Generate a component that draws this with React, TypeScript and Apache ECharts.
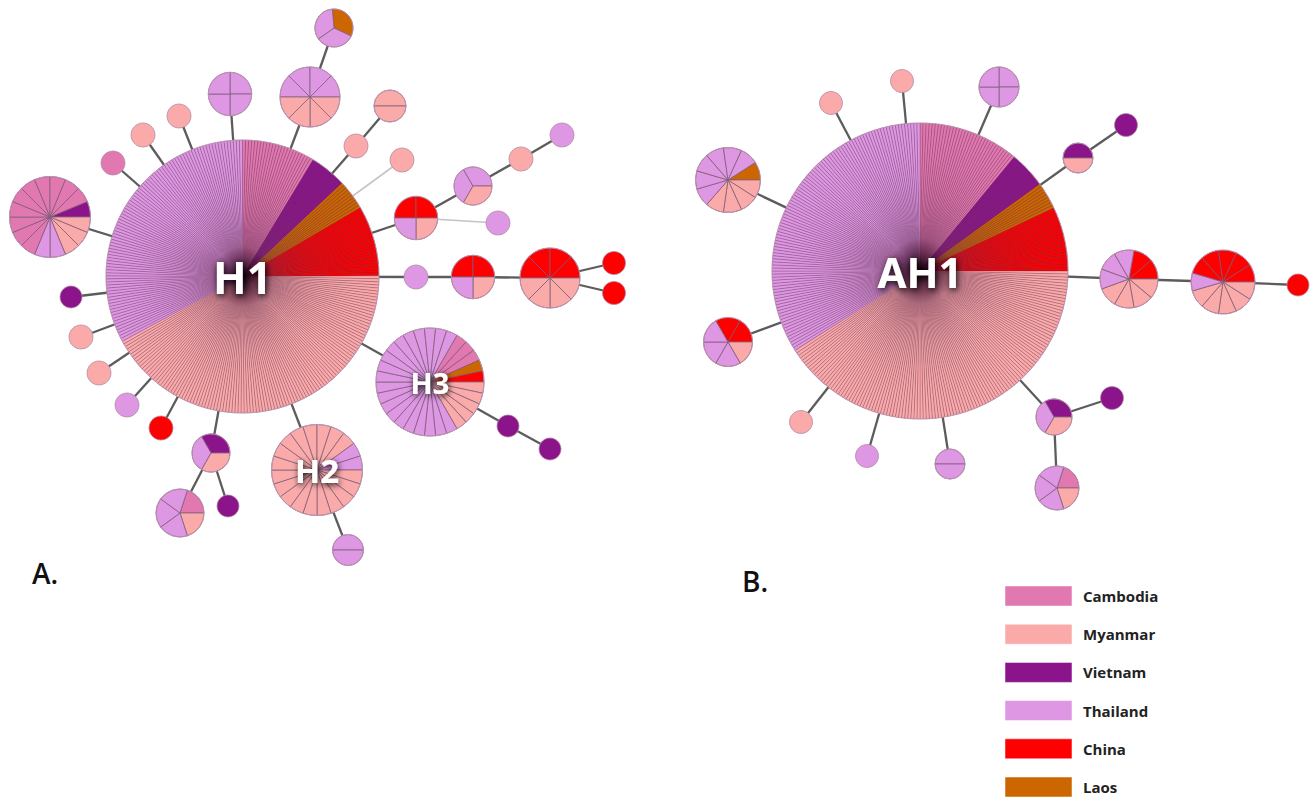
import React, { useEffect, useRef } from 'react';
import * as echarts from 'echarts';

const countries = ['Cambodia', 'Myanmar', 'Vietnam', 'Thailand', 'China', 'Laos'];
const countryColors = ['#e278b0', '#fbaaaa', '#8b148b', '#dd97e3', '#fe0000', '#cc6600'];
const CAM = 0, MYA = 1, VIE = 2, THA = 3, CHI = 4, LAO = 5;

// Panel A: haplotype compositions (samples per country, clockwise order)
const haplotypesA: number[][][] = [
  [[CAM, 24], [VIE, 12], [LAO, 10], [CHI, 23], [MYA, 117], [THA, 91]], // 0 H1
  [[THA, 2], [MYA, 18]], // 1 H2
  [[CAM, 3], [LAO, 1], [CHI, 1], [MYA, 5], [THA, 20]], // 2 H3
  [[LAO, 1], [THA, 2]], // 3
  [[THA, 4], [MYA, 4]], // 4
  [[THA, 4]], // 5
  [[MYA, 1]], // 6
  [[MYA, 1]], // 7
  [[CAM, 1]], // 8
  [[VIE, 1], [MYA, 3], [THA, 2], [CAM, 10]], // 9
  [[VIE, 1]], // 10
  [[MYA, 1]], // 11
  [[MYA, 1]], // 12
  [[THA, 1]], // 13
  [[CHI, 1]], // 14
  [[VIE, 1], [MYA, 1], [THA, 1]], // 15
  [[CAM, 1], [MYA, 1], [THA, 3]], // 16
  [[VIE, 1]], // 17
  [[THA, 2]], // 18
  [[VIE, 1]], // 19
  [[VIE, 1]], // 20
  [[MYA, 1]], // 21
  [[MYA, 2]], // 22
  [[MYA, 1]], // 23
  [[CHI, 2], [MYA, 1], [THA, 1]], // 24
  [[THA, 2], [MYA, 1]], // 25
  [[MYA, 1]], // 26
  [[THA, 1]], // 27
  [[THA, 1]], // 28
  [[THA, 1]], // 29
  [[CHI, 2], [MYA, 1], [THA, 1]], // 30
  [[CHI, 4], [MYA, 4]], // 31
  [[CHI, 1]], // 32
  [[CHI, 1]], // 33
];
const labelsA = ['H1', 'H2', 'H3'];
// [from, to, faint]
const edgesA = [
  [0, 4, 0], [4, 3, 0], [0, 5, 0], [0, 6, 0], [0, 7, 0], [0, 8, 0], [0, 9, 0], [0, 10, 0],
  [0, 11, 0], [0, 12, 0], [0, 13, 0], [0, 14, 0], [0, 15, 0], [15, 16, 0], [15, 17, 0],
  [0, 1, 0], [1, 18, 0], [0, 2, 0], [2, 19, 0], [19, 20, 0], [0, 21, 0], [21, 22, 0],
  [0, 23, 1], [0, 24, 0], [24, 25, 0], [25, 26, 0], [26, 27, 0], [24, 28, 1], [0, 29, 0],
  [29, 30, 0], [30, 31, 0], [31, 32, 0], [31, 33, 0],
];

// Panel B
const haplotypesB: number[][][] = [
  [[CAM, 33], [VIE, 12], [LAO, 9], [CHI, 21], [MYA, 123], [THA, 102]], // 0 AH1
  [[MYA, 1]], // 1
  [[MYA, 1]], // 2
  [[THA, 4]], // 3
  [[VIE, 1], [MYA, 1]], // 4
  [[VIE, 1]], // 5
  [[LAO, 1], [MYA, 4], [THA, 6]], // 6
  [[CHI, 2], [MYA, 1], [THA, 3]], // 7
  [[MYA, 1]], // 8
  [[THA, 1]], // 9
  [[THA, 2]], // 10
  [[VIE, 1], [MYA, 1], [THA, 1]], // 11
  [[VIE, 1]], // 12
  [[CAM, 1], [MYA, 1], [THA, 3]], // 13
  [[CHI, 2], [MYA, 4], [THA, 3]], // 14
  [[CHI, 5], [MYA, 5], [THA, 1]], // 15
  [[CHI, 1]], // 16
];
const labelsB = ['AH1'];
const edgesB = [
  [0, 1, 0], [0, 2, 0], [0, 3, 0], [0, 4, 0], [4, 5, 0], [0, 6, 0], [0, 7, 0], [0, 8, 0],
  [0, 9, 0], [0, 10, 0], [0, 11, 0], [11, 12, 0], [11, 13, 0], [0, 14, 0], [14, 15, 0], [15, 16, 0],
];

const panelTitles = ['A.', 'B.'];

// Layout (not data): [x, y, radius, startAngle(clock deg), labelFontSize]
const layoutA = [
  [242.5, 276.5, 136.5, 0, 44], [317, 470, 45.5, 54, 33], [430, 382, 54, 30, 29],
  [334, 28, 19, 355], [310, 97, 30, 270], [230, 94, 21.7, 0], [179, 116, 12, 0],
  [143, 135, 12, 0], [113, 163, 12, 0], [50, 217, 40.5, 67.5], [71, 297, 11, 0],
  [81, 337, 12, 0], [99, 373, 12, 0], [127, 405, 12, 0], [161, 428, 12, 0],
  [211, 453, 19, 330], [180, 513, 24, 18], [228, 506, 11, 0], [348, 550, 15.5, 270],
  [508, 426, 11, 0], [550, 449, 11, 0], [356, 146, 12, 0], [390, 106, 16, 270],
  [402, 160, 12, 0], [416, 218, 21.7, 270], [473, 186, 19, 210], [521, 159, 12, 0],
  [562, 135, 12, 0], [498, 223, 12, 0], [416, 277, 12, 0], [473, 277, 21.7, 270],
  [550, 278, 30, 270], [614, 263, 11.5, 0], [614, 293, 11.5, 0],
];
const layoutB = [
  [920, 271, 148, 0, 42], [831, 103, 11.5, 0], [902, 81, 11.5, 0], [999, 87, 20, 0],
  [1078, 158, 15, 270], [1126, 125, 11.5, 0], [728, 180, 32.5, 57.3], [728, 342, 24.5, 330],
  [801, 422, 11.5, 0], [867, 456, 11.5, 0], [950, 464, 15, 270], [1054, 417, 18, 330],
  [1112, 398, 11.5, 0], [1057, 488, 22, 18], [1129, 279, 29, 10], [1223, 282, 32, 286.4],
  [1298, 285, 11, 0],
];
const titlePos = [[32, 578], [742, 586]];

export default function App() {
  const ref = useRef<HTMLDivElement>(null);
  useEffect(() => {
    const chart = echarts.init(ref.current as HTMLDivElement, undefined, { renderer: 'svg' });
    const panels = [
      { comps: haplotypesA, labels: labelsA, layout: layoutA, edges: edgesA },
      { comps: haplotypesB, labels: labelsB, layout: layoutB, edges: edgesB },
    ];
    const nodes: any[] = [];
    const edgeData: any[] = [];
    panels.forEach((p) => {
      p.comps.forEach((c, i) => nodes.push({ comp: c, label: p.labels[i] || '', lay: p.layout[i] }));
      p.edges.forEach(([a, b, faint]) => {
        edgeData.push({
          coords: [[p.layout[a][0], p.layout[a][1]], [p.layout[b][0], p.layout[b][1]]],
          lineStyle: faint ? { color: '#c4c4c4', width: 1.6 } : { color: '#5c5c5c', width: 2.3 },
        });
      });
    });
    const nodeData = nodes.map((n, i) => [n.lay[0], n.lay[1], n.lay[2], i]);

    const graphics: any[] = [];
    panelTitles.forEach((t, i) => {
      graphics.push({
        type: 'text', left: titlePos[i][0], top: titlePos[i][1] - 19,
        style: { text: t, fill: '#111', font: '600 28px "Open Sans", sans-serif' },
      });
    });
    countries.forEach((c, i) => {
      graphics.push({
        type: 'rect', shape: { x: 1005, y: 586 + 38.2 * i, width: 67, height: 20 },
        style: { fill: countryColors[i], stroke: 'rgba(255,255,255,0.5)', lineWidth: 1 },
      });
      graphics.push({
        type: 'text', x: 1083, y: 596 + 38.2 * i,
        style: { text: c, fill: '#222', font: 'bold 15px "Open Sans", sans-serif', verticalAlign: 'middle', align: 'left' },
      });
    });

    chart.setOption({
      animation: false,
      backgroundColor: '#ffffff',
      grid: { left: 0, right: 0, top: 0, bottom: 0 },
      xAxis: { type: 'value', min: 0, max: 1311, show: false },
      yAxis: { type: 'value', min: 0, max: 799, inverse: true, show: false },
      graphic: graphics,
      series: [
        {
          type: 'lines', coordinateSystem: 'cartesian2d', data: edgeData, silent: true, z: 1,
          lineStyle: { color: '#5c5c5c', width: 2.3, opacity: 1 },
        },
        {
          type: 'custom', coordinateSystem: 'cartesian2d', data: nodeData, silent: true, z: 2, clip: false,
          encode: { x: 0, y: 1 },
          renderItem: (params: any, api: any) => {
            const idx = api.value(3);
            const node = nodes[idx];
            const p = api.coord([api.value(0), api.value(1)]);
            const r = api.size([api.value(2), 0])[0];
            const total = node.comp.reduce((s: number, c: number[]) => s + c[1], 0);
            const big = total > 50;
            const children: any[] = [];
            if (total === 1) {
              children.push({
                type: 'circle', shape: { cx: p[0], cy: p[1], r },
                style: { fill: countryColors[node.comp[0][0]], stroke: 'rgba(175,135,165,0.75)', lineWidth: 1 },
              });
            } else {
              // backing disc hides the edges behind the pie seams
              children.push({
                type: 'circle', shape: { cx: p[0], cy: p[1], r },
                style: { fill: big ? '#8e6a84' : countryColors[node.comp[0][0]] },
              });
              const per = (Math.PI * 2) / total;
              let a = ((node.lay[3] - 90) * Math.PI) / 180;
              node.comp.forEach(([c, n]: number[]) => {
                for (let k = 0; k < n; k++) {
                  children.push({
                    type: 'sector',
                    shape: { cx: p[0], cy: p[1], r, r0: 0, startAngle: a, endAngle: a + per, clockwise: true },
                    style: {
                      fill: countryColors[c],
                      stroke: big ? 'rgba(90,35,70,0.42)' : 'rgba(125,95,120,0.75)',
                      lineWidth: big ? 0.6 : 1,
                    },
                  });
                  a += per;
                }
              });
              children.push({
                type: 'circle', shape: { cx: p[0], cy: p[1], r },
                style: { fill: 'none', stroke: 'rgba(195,155,185,0.85)', lineWidth: 1 },
              });
              if (big) {
                children.push({
                  type: 'circle', shape: { cx: p[0], cy: p[1], r: r * 0.22 },
                  style: {
                    fill: {
                      type: 'radial', x: 0.5, y: 0.5, r: 0.5,
                      colorStops: [
                        { offset: 0, color: 'rgba(0,0,0,0.85)' },
                        { offset: 0.4, color: 'rgba(30,0,20,0.45)' },
                        { offset: 1, color: 'rgba(60,0,40,0)' },
                      ],
                    },
                  },
                });
              }
            }
            if (node.label) {
              children.push({
                type: 'text', x: p[0], y: p[1],
                style: {
                  text: node.label, fill: '#ffffff',
                  font: `bold ${node.lay[4]}px "Open Sans", sans-serif`,
                  align: 'center', verticalAlign: 'middle',
                  textShadowColor: 'rgba(0,0,0,0.9)', textShadowBlur: 6,
                  textShadowOffsetX: 1, textShadowOffsetY: 2,
                },
              });
            }
            return { type: 'group', children };
          },
        },
      ],
    });
    return () => chart.dispose();
  }, []);
  return (
    <div
      ref={ref}
      style={{ position: 'absolute', left: 0, top: 0, width: 1311, height: 799, background: '#fff' }}
    />
  );
}
